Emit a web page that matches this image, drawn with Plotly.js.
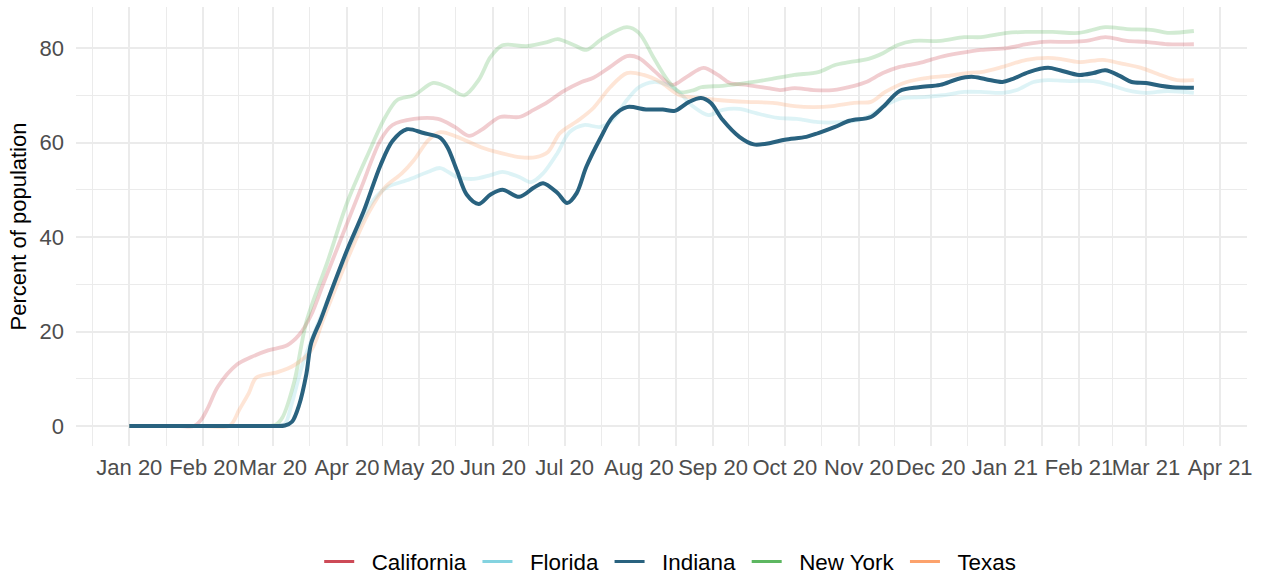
<!DOCTYPE html>
<html>
<head>
<meta charset="utf-8">
<script src="https://cdn.plot.ly/plotly-3.0.1.min.js"></script>
<style>html,body{margin:0;padding:0;background:#fff;}#chart{width:1264px;height:576px;}</style>
</head>
<body>
<div id="chart"></div>
<script>
const stateNames = ['California', 'Florida', 'Indiana', 'New York', 'Texas'];
const stateColors = ['#CD4A57', '#84D3E0', '#29627F', '#5DB761', '#FCA26C'];

const caDates = ['2020-01-01','2020-01-12','2020-01-22','2020-01-28','2020-01-31','2020-02-03','2020-02-07','2020-02-15','2020-02-21','2020-02-28','2020-03-07','2020-03-12','2020-03-17','2020-03-22','2020-03-29','2020-04-07','2020-04-15','2020-04-20','2020-04-29','2020-05-09','2020-05-16','2020-05-22','2020-05-27','2020-06-04','2020-06-12','2020-06-18','2020-06-24','2020-06-30','2020-07-08','2020-07-13','2020-07-20','2020-07-27','2020-08-01','2020-08-08','2020-08-15','2020-08-21','2020-08-28','2020-09-03','2020-09-08','2020-09-15','2020-09-24','2020-09-29','2020-10-05','2020-10-13','2020-10-21','2020-10-30','2020-11-04','2020-11-11','2020-11-18','2020-11-26','2020-12-05','2020-12-13','2020-12-22','2021-01-02','2021-01-10','2021-01-17','2021-01-28','2021-02-04','2021-02-12','2021-02-21','2021-03-01','2021-03-10','2021-03-21'];
const caValues = [0,0,0,0,1.3,4,8.3,13,14.6,16,17.1,19.3,23.5,30,39,50.5,60.5,63.7,65,65,63.3,61.4,62.6,65.4,65.4,66.9,68.6,70.7,72.8,73.7,76,78.3,77.9,74.9,72.2,73.9,75.8,74.3,72.6,72.2,71.5,71.1,71.5,71.1,71.1,72,72.8,74.7,76,76.8,78.1,78.9,79.6,80,80.8,81.3,81.3,81.5,82.3,81.5,81.3,80.8,80.8];

const flDates = ['2020-01-01','2020-01-15','2020-02-01','2020-02-15','2020-02-25','2020-03-03','2020-03-06','2020-03-09','2020-03-14','2020-03-25','2020-04-04','2020-04-12','2020-04-18','2020-04-26','2020-05-05','2020-05-10','2020-05-17','2020-05-24','2020-05-31','2020-06-05','2020-06-12','2020-06-17','2020-06-22','2020-06-28','2020-07-03','2020-07-09','2020-07-16','2020-07-21','2020-07-27','2020-08-01','2020-08-07','2020-08-13','2020-08-18','2020-08-24','2020-08-30','2020-09-05','2020-09-12','2020-09-19','2020-09-28','2020-10-06','2020-10-15','2020-10-24','2020-11-01','2020-11-06','2020-11-12','2020-11-19','2020-11-28','2020-12-06','2020-12-15','2020-12-22','2020-12-31','2021-01-06','2021-01-13','2021-01-19','2021-01-28','2021-02-07','2021-02-14','2021-02-21','2021-03-01','2021-03-10','2021-03-21'];
const flValues = [0,0,0,0,0,0,0.4,4.9,14,28,40,47.8,50.6,52,53.8,54.6,52.7,52.3,53.1,53.8,52.7,51.6,53.5,57.8,62.2,63.7,63.3,64.8,69,71.7,72.8,72.2,70.5,67.5,65.8,66.9,67.1,66.2,65.2,65,64.3,64.3,64.8,65.8,67.9,69.4,69.6,70,70.7,70.7,70.5,71.1,72.8,73.2,73,73,72.2,71.1,70.5,70.9,70.5];

const inDates = ['2020-01-01','2020-01-15','2020-02-01','2020-02-15','2020-02-25','2020-03-02','2020-03-06','2020-03-09','2020-03-12','2020-03-15','2020-03-17','2020-03-21','2020-03-25','2020-04-01','2020-04-08','2020-04-15','2020-04-20','2020-04-26','2020-05-03','2020-05-10','2020-05-13','2020-05-17','2020-05-21','2020-05-26','2020-05-31','2020-06-05','2020-06-12','2020-06-18','2020-06-22','2020-06-28','2020-07-02','2020-07-06','2020-07-10','2020-07-16','2020-07-21','2020-07-27','2020-08-04','2020-08-11','2020-08-16','2020-08-22','2020-08-27','2020-08-31','2020-09-05','2020-09-12','2020-09-18','2020-09-25','2020-10-01','2020-10-10','2020-10-15','2020-10-22','2020-10-28','2020-11-06','2020-11-11','2020-11-18','2020-11-26','2020-12-05','2020-12-12','2020-12-18','2020-12-24','2020-12-31','2021-01-04','2021-01-11','2021-01-19','2021-01-24','2021-02-01','2021-02-07','2021-02-12','2021-02-18','2021-02-23','2021-03-01','2021-03-07','2021-03-12','2021-03-21'];
const inValues = [0,0,0,0,0,0,0.1,0.9,4.5,11,17.5,22.5,28,37.2,45.5,55.2,60.3,62.8,62,61,59,54,49,47,49,50,48.5,50.4,51.4,49.3,47.2,49.3,54.8,61,65.4,67.5,67,67,66.7,68.6,69.4,68.4,64.8,61.2,59.6,59.9,60.6,61.2,62,63.3,64.6,65.4,67.5,70.9,71.7,72.2,73.4,73.9,73.4,72.8,73.4,74.9,75.8,75.3,74.3,74.7,75.3,74.1,72.8,72.6,72,71.7,71.6];

const nyDates = ['2020-01-01','2020-01-15','2020-02-01','2020-02-15','2020-02-25','2020-03-02','2020-03-05','2020-03-10','2020-03-15','2020-03-24','2020-04-01','2020-04-10','2020-04-17','2020-04-22','2020-04-29','2020-05-07','2020-05-13','2020-05-20','2020-05-26','2020-05-31','2020-06-05','2020-06-15','2020-06-24','2020-06-28','2020-07-05','2020-07-10','2020-07-17','2020-07-27','2020-08-01','2020-08-07','2020-08-13','2020-08-18','2020-08-24','2020-08-27','2020-09-05','2020-09-15','2020-09-25','2020-10-05','2020-10-15','2020-10-22','2020-10-28','2020-11-05','2020-11-11','2020-11-17','2020-11-24','2020-12-05','2020-12-15','2020-12-22','2021-01-02','2021-01-10','2021-01-21','2021-02-01','2021-02-12','2021-02-21','2021-03-04','2021-03-10','2021-03-21'];
const nyValues = [0,0,0,0,0,0.2,1.8,9.5,22,35,47.2,57.8,65.4,69,70,72.6,71.7,70,73.2,78.1,80.6,80.4,81.3,81.9,80.6,79.6,82.1,84.4,83.2,78.1,73.2,70.7,71.1,71.7,72,72.6,73.4,74.3,74.9,76.4,77,77.7,78.9,80.6,81.5,81.5,82.3,82.3,83.2,83.4,83.4,83.2,84.4,84,83.8,83.2,83.6];

const txDates = ['2020-01-01','2020-01-15','2020-02-01','2020-02-12','2020-02-16','2020-02-20','2020-02-23','2020-03-03','2020-03-10','2020-03-17','2020-03-22','2020-04-01','2020-04-10','2020-04-17','2020-04-24','2020-04-29','2020-05-05','2020-05-10','2020-05-17','2020-05-27','2020-06-04','2020-06-12','2020-06-19','2020-06-24','2020-06-29','2020-07-07','2020-07-13','2020-07-20','2020-07-27','2020-08-03','2020-08-10','2020-08-18','2020-08-27','2020-09-03','2020-09-15','2020-09-26','2020-10-05','2020-10-13','2020-10-21','2020-10-30','2020-11-06','2020-11-12','2020-11-21','2020-11-30','2020-12-08','2020-12-16','2020-12-22','2020-12-31','2021-01-10','2021-01-19','2021-01-24','2021-02-01','2021-02-11','2021-02-18','2021-02-27','2021-03-07','2021-03-14','2021-03-21'];
const txValues = [0,0,0,0.1,3.5,7,10.2,11.4,12.9,16,22.5,35.1,45.1,50.6,53.5,56.3,60.5,62.2,61.2,59,57.8,56.9,56.9,58,62,64.8,67.3,71.7,74.7,74.3,72.8,70,69.4,69,68.6,68.4,67.7,67.5,67.7,68.4,68.6,70.7,72.8,73.7,74.1,74.7,74.9,76,77.5,77.9,77.7,77,77.5,76.8,75.8,74.3,73.2,73.2];

const yTicks = [0, 20, 40, 60, 80];

const seriesDates = [caDates, flDates, inDates, nyDates, txDates];
const seriesValues = [caValues, flValues, inValues, nyValues, txValues];
const highlight = 'Indiana';

const font = 'Liberation Sans, Arial, Helvetica, sans-serif';
const NB = '\u00A0';
const traces = [];
// faded states first, highlighted state last (on top)
const order = [0, 1, 3, 4, 2];
order.forEach(i => {
  const isHi = stateNames[i] === highlight;
  traces.push({
    type: 'scatter', mode: 'lines',
    x: seriesDates[i], y: seriesValues[i],
    name: stateNames[i], showlegend: false, hoverinfo: 'x+y+name',
    opacity: isHi ? 1 : 0.28,
    line: {color: stateColors[i], width: isHi ? 4 : 3.8, shape: 'spline', smoothing: 0.9}
  });
});
// legend entries at full colour
stateNames.forEach((n, i) => {
  traces.push({
    type: 'scatter', mode: 'lines', x: [null], y: [null],
    name: NB + NB + n + NB, showlegend: true, hoverinfo: 'skip',
    line: {color: stateColors[i], width: 3}
  });
});

// minor gridlines halfway between month starts
const minorX = [];
for (let m = -1; m < 16; m++) {
  const a = new Date(Date.UTC(2020, m, 1));
  const b = new Date(Date.UTC(2020, m + 1, 1));
  const mid = new Date((a.getTime() + b.getTime()) / 2);
  minorX.push(mid.toISOString().slice(0, 19).replace('T', ' '));
}

const layout = {
  width: 1264, height: 576,
  paper_bgcolor: '#ffffff', plot_bgcolor: '#ffffff',
  margin: {l: 76, r: 17, t: 7, b: 130, autoexpand: false},
  font: {family: font, size: 22, color: '#000000'},
  showlegend: true,
  xaxis: {
    type: 'date', automargin: false,
    range: ['2019-12-09 17:00', '2021-04-12 05:00'],
    tick0: '2020-01-01', dtick: 'M1', tickformat: '%b %y', tickangle: 0,
    showline: false, zeroline: false, ticks: '',
    showgrid: true, gridcolor: '#EBEBEB', gridwidth: 2,
    tickfont: {family: font, size: 22, color: '#4D4D4D'},
    ticklabelstandoff: 6,
    minor: {tickmode: 'array', tickvals: minorX, showgrid: true, gridcolor: '#EBEBEB', gridwidth: 1.1, ticks: ''}
  },
  yaxis: {
    automargin: false,
    range: [-4.23, 88.68],
    tickmode: 'array', tickvals: yTicks,
    showline: false, zeroline: false, ticks: '',
    showgrid: true, gridcolor: '#EBEBEB', gridwidth: 2,
    tickfont: {family: font, size: 22, color: '#4D4D4D'},
    ticklabelstandoff: 11,
    minor: {tick0: 10, dtick: 20, showgrid: true, gridcolor: '#EBEBEB', gridwidth: 1.1, ticks: ''},
    title: {text: 'Percent of population', font: {family: font, size: 22, color: '#000000'}, standoff: 6}
  },
  legend: {
    orientation: 'h', x: 0.51, xanchor: 'center', y: -0.264, yanchor: 'middle',
    font: {family: font, size: 22.4, color: '#000000'},
    traceorder: 'normal', bgcolor: 'rgba(0,0,0,0)', itemwidth: 30
  }
};

Plotly.newPlot('chart', traces, layout, {staticPlot: true, displayModeBar: false});
</script>
</body>
</html>
